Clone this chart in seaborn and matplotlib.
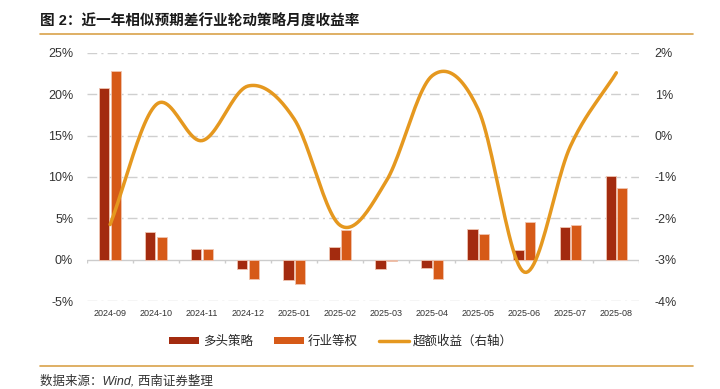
import numpy as np
import pandas as pd
import matplotlib
matplotlib.use("Agg")
import matplotlib.pyplot as plt
import seaborn as sns
from matplotlib.lines import Line2D
from matplotlib.patches import Patch

# data
months = ['2024-09', '2024-10', '2024-11', '2024-12', '2025-01', '2025-02',
          '2025-03', '2025-04', '2025-05', '2025-06', '2025-07', '2025-08']
long_ret = [20.7, 3.35, 1.3, -1.1, -2.5, 1.5, -1.15, -1.0, 3.7, 1.2, 4.0, 10.1]
equal_ret = [22.8, 2.8, 1.3, -2.3, -2.9, 3.65, -0.15, -2.3, 3.1, 4.6, 4.2, 8.7]
excess_ret = [-2.15, 0.75, -0.12, 1.2, 0.4, -2.17, -1.1, 1.45, 0.63, -3.3, -0.26, 1.52]

c_long = '#A32B0F'
c_equal = '#D65A18'
c_line = '#E5981F'
c_rule = '#D9A24A'

sns.set_theme(style="white")
plt.rcParams['font.family'] = ['Liberation Sans', 'Noto Sans CJK SC']
plt.rcParams['axes.unicode_minus'] = False

df = pd.DataFrame({
    'month': months * 2,
    'series': ['多头策略'] * len(months) + ['行业等权'] * len(months),
    'value': long_ret + equal_ret,
})

fig = plt.figure(figsize=(7.2, 3.89), dpi=100)
ax = fig.add_axes([0.121, 0.226, 0.767, 0.638])

sns.barplot(data=df, x='month', y='value', hue='series', order=months,
            palette=[c_long, c_equal], saturation=1, width=0.5, gap=0.12, ax=ax,
            edgecolor='#F0C4B0', linewidth=0.6, legend=False, zorder=3)

ax.set_xlim(-0.5, len(months) - 0.5)
ax.set_ylim(-5, 25)
ax.set_yticks(np.arange(-5, 26, 5))
ax.set_yticklabels([f'{v}%' for v in range(-5, 26, 5)], fontsize=9, color='#333333')
ax.set_xlabel('')
ax.set_ylabel('')
ax.tick_params(axis='x', labelsize=6.5, length=0, pad=6, colors='#333333')
ax.tick_params(axis='y', length=0, pad=10)
for s in ax.spines.values():
    s.set_visible(False)

# dashed gridlines and the zero line with category dividers
for v in range(-5, 26, 5):
    if v != 0:
        ax.axhline(v, color='#CFCFCF', lw=1.0, ls=(0, (7, 3, 1.5, 3)), zorder=0)
ax.axhline(0, color='#CCCCCC', lw=1.0, zorder=1)
ax.vlines(np.arange(-0.5, len(months)), -0.4, 0, color='#CCCCCC', lw=1.0, zorder=1)

# smoothed excess-return line on the right axis (Catmull-Rom through the monthly points)
ax2 = ax.twinx()
pts = np.array(excess_ret)
xs_all, ys_all = [], []
p = np.concatenate([[2 * pts[0] - pts[1]], pts, [2 * pts[-1] - pts[-2]]])
t = np.linspace(0, 1, 25)
for i in range(1, len(pts)):
    p0, p1, p2, p3 = p[i - 1], p[i], p[i + 1], p[i + 2]
    yy = 0.5 * ((2 * p1) + (-p0 + p2) * t + (2 * p0 - 5 * p1 + 4 * p2 - p3) * t ** 2
                + (-p0 + 3 * p1 - 3 * p2 + p3) * t ** 3)
    xx = (i - 1) + t
    last = i == len(pts) - 1
    xs_all.extend(xx if last else xx[:-1])
    ys_all.extend(yy if last else yy[:-1])
ax2.plot(xs_all, ys_all, color=c_line, lw=2.5, solid_capstyle='round', zorder=4)
ax2.set_ylim(-4, 2)
ax2.set_yticks(np.arange(-4, 3, 1))
ax2.set_yticklabels([f'{v}%' for v in range(-4, 3)], fontsize=9, color='#333333')
ax2.tick_params(axis='y', length=0, pad=11)
for s in ax2.spines.values():
    s.set_visible(False)

# legend
handles = [
    Patch(facecolor=c_long, edgecolor='none'),
    Patch(facecolor=c_equal, edgecolor='none'),
    Line2D([0], [0], color=c_line, lw=2.5),
]
fig.legend(handles, ['多头策略', '行业等权', '超额收益（右轴）'], loc='center',
           bbox_to_anchor=(0.474, 0.122), ncol=3, frameon=False, fontsize=9,
           handlelength=2.4, handleheight=0.55, columnspacing=1.7, handletextpad=0.3)

# title, rules and source note
fig.text(0.056, 0.945, '图 2：近一年相似预期差行业轮动策略月度收益率', fontsize=10.5,
         fontweight='bold', color='#1A1A1A', va='center')
fig.add_artist(Line2D([0.056, 0.962], [0.912, 0.912], color=c_rule, lw=1.2))
fig.add_artist(Line2D([0.056, 0.962], [0.06, 0.06], color=c_rule, lw=1.2))
fig.text(0.056, 0.02, '数据来源：Wind, 西南证券整理', fontsize=9, style='italic',
         color='#333333', va='center')

fig.savefig('out.png', dpi=100)
